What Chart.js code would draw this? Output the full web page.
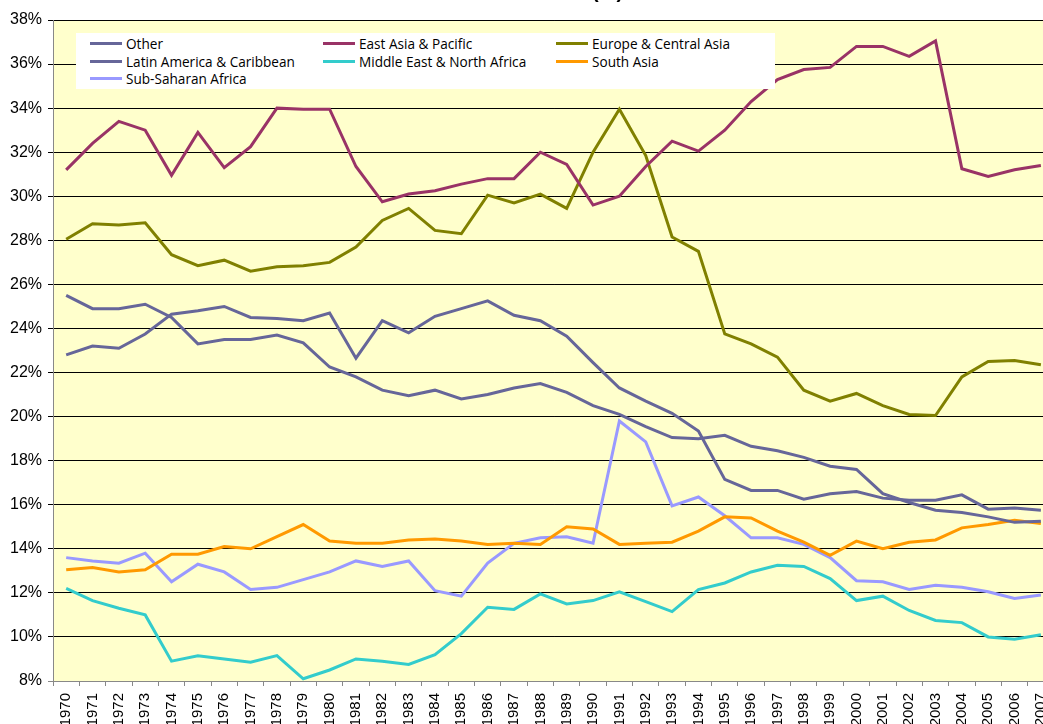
<!DOCTYPE html>
<html>
<head>
<meta charset="utf-8">
<script src="https://cdn.jsdelivr.net/npm/chart.js@4.4.0/dist/chart.umd.min.js"></script>
<style>
  html, body { margin: 0; padding: 0; background: #fff; overflow: hidden; width: 1043px; height: 724px; }
  #wrap { position: absolute; left: 0; top: 0; width: 1066px; height: 740px; }
  #title { position: absolute; left: 592px; top: -19px; font: bold 20px "Liberation Sans", Arial, sans-serif; line-height: 1; color: #000; white-space: nowrap; }
  #legend { position: absolute; left: 76px; top: 33px; width: 699px; height: 56px; background: #fff; box-sizing: border-box; padding: 2px 0 0 14px; display: grid; grid-template-columns: 233px 233px 233px; grid-auto-rows: 17.5px; }
  #legend .item { display: flex; align-items: center; font: 13.6px "Open Sans", sans-serif; color: #000; white-space: nowrap; }
  #legend .sw { display: inline-block; width: 32px; height: 3px; margin-right: 4px; }
</style>
</head>
<body>
<div id="wrap"><canvas id="chart"></canvas></div>
<div id="title">(%)</div>
<div id="legend"></div>
<script>
  // categories
  const years = ["1970","1971","1972","1973","1974","1975","1976","1977","1978","1979",
    "1980","1981","1982","1983","1984","1985","1986","1987","1988","1989",
    "1990","1991","1992","1993","1994","1995","1996","1997","1998","1999",
    "2000","2001","2002","2003","2004","2005","2006","2007"];

  // series values (%)
  const other = [25.5,24.9,24.9,25.1,24.5,23.3,23.5,23.5,23.7,23.35,
    22.25,21.8,21.2,20.95,21.2,20.8,21.0,21.3,21.5,21.1,
    20.5,20.1,19.55,19.05,19.0,19.15,18.65,18.45,18.15,17.75,
    17.6,16.5,16.1,15.75,15.65,15.45,15.2,15.25];
  const eastAsia = [31.2,32.4,33.4,33.0,30.95,32.9,31.3,32.25,34.0,33.95,
    33.95,31.35,29.75,30.1,30.25,30.55,30.8,30.8,32.0,31.45,
    29.6,30.0,31.35,32.5,32.05,33.0,34.3,35.3,35.75,35.85,
    36.8,36.8,36.35,37.05,31.25,30.9,31.2,31.4];
  const europeCA = [28.05,28.75,28.7,28.8,27.35,26.85,27.1,26.6,26.8,26.85,
    27.0,27.7,28.9,29.45,28.45,28.3,30.05,29.7,30.1,29.45,
    32.0,33.95,31.85,28.15,27.5,23.75,23.3,22.7,21.2,20.7,
    21.05,20.5,20.1,20.05,21.8,22.5,22.55,22.35];
  const latinAm = [22.8,23.2,23.1,23.75,24.65,24.8,25.0,24.5,24.45,24.35,
    24.7,22.65,24.35,23.8,24.55,24.9,25.25,24.6,24.35,23.65,
    22.45,21.3,20.7,20.15,19.35,17.15,16.65,16.65,16.25,16.5,
    16.6,16.3,16.2,16.2,16.45,15.8,15.85,15.75];
  const middleEast = [12.2,11.65,11.3,11.0,8.9,9.15,9.0,8.85,9.15,8.1,
    8.5,9.0,8.9,8.75,9.2,10.15,11.35,11.25,11.95,11.5,
    11.65,12.05,11.6,11.15,12.15,12.45,12.95,13.25,13.2,12.65,
    11.65,11.85,11.2,10.75,10.65,10.0,9.9,10.1];
  const southAsia = [13.05,13.15,12.95,13.05,13.75,13.75,14.1,14.0,14.55,15.1,
    14.35,14.25,14.25,14.4,14.45,14.35,14.2,14.25,14.2,15.0,
    14.9,14.2,14.25,14.3,14.8,15.45,15.4,14.8,14.3,13.7,
    14.35,14.0,14.3,14.4,14.95,15.1,15.3,15.15];
  const subSaharan = [13.6,13.45,13.35,13.8,12.5,13.3,12.95,12.15,12.25,12.6,
    12.95,13.45,13.2,13.45,12.1,11.85,13.35,14.25,14.5,14.55,
    14.25,19.8,18.85,15.95,16.35,15.5,14.5,14.5,14.2,13.6,
    12.55,12.5,12.15,12.35,12.25,12.05,11.75,11.9];

  // y tick labels
  const yMin = 8, yMax = 38, yStep = 2;

  const seriesNames = ["Other", "East Asia & Pacific", "Europe & Central Asia",
    "Latin America & Caribbean", "Middle East & North Africa", "South Asia",
    "Sub-Saharan Africa"];
  const seriesData = [other, eastAsia, europeCA, latinAm, middleEast, southAsia, subSaharan];
  const seriesColors = ["#666699", "#993366", "#808000", "#666699", "#33CCCC", "#FF9900", "#9999FF"];

  // legend inside plot area, 3 columns like the original
  const legendEl = document.getElementById('legend');
  seriesNames.forEach((name, i) => {
    const item = document.createElement('div');
    item.className = 'item';
    item.innerHTML = '<span class="sw" style="background:' + seriesColors[i] + '"></span>' + name;
    legendEl.appendChild(item);
  });

  // yellow plot area
  const plotBackground = {
    id: 'plotBackground',
    beforeDraw(chart) {
      const { ctx, chartArea: a } = chart;
      ctx.save();
      ctx.fillStyle = '#FFFFCC';
      ctx.fillRect(a.left, a.top, a.right - a.left, a.bottom - a.top);
      ctx.restore();
    }
  };

  const axisFont = { family: '"Liberation Sans", Arial, sans-serif' };

  new Chart(document.getElementById('chart').getContext('2d'), {
    type: 'line',
    data: {
      labels: years,
      datasets: seriesNames.map((name, i) => ({
        label: name,
        data: seriesData[i],
        borderColor: seriesColors[i],
        backgroundColor: seriesColors[i],
        borderWidth: 3,
        pointRadius: 0,
        tension: 0,
        fill: false
      }))
    },
    options: {
      responsive: true,
      maintainAspectRatio: false,
      animation: false,
      layout: { padding: { top: 20, left: 0, right: 8, bottom: 0 } },
      plugins: { legend: { display: false }, tooltip: { enabled: false } },
      scales: {
        x: {
          offset: true,
          afterFit(scale) { scale.height = 59; },
          grid: { drawOnChartArea: false, color: '#888', tickLength: 5, offset: true },
          border: { color: '#888', width: 1 },
          ticks: {
            autoSkip: false, minRotation: 90, maxRotation: 90, padding: 7,
            color: '#000', font: { ...axisFont, size: 15 }
          }
        },
        y: {
          min: yMin, max: yMax,
          afterFit(scale) { scale.width = 53; },
          grid: {
            color: ctx => (ctx.tick && ctx.tick.value === yMin) ? '#888' : '#000',
            lineWidth: 1, tickLength: 5
          },
          border: { color: '#888', width: 1 },
          ticks: {
            stepSize: yStep, padding: 6, color: '#000',
            font: { ...axisFont, size: 16 },
            callback: v => v + '%'
          }
        }
      }
    },
    plugins: [plotBackground]
  });
</script>
</body>
</html>
